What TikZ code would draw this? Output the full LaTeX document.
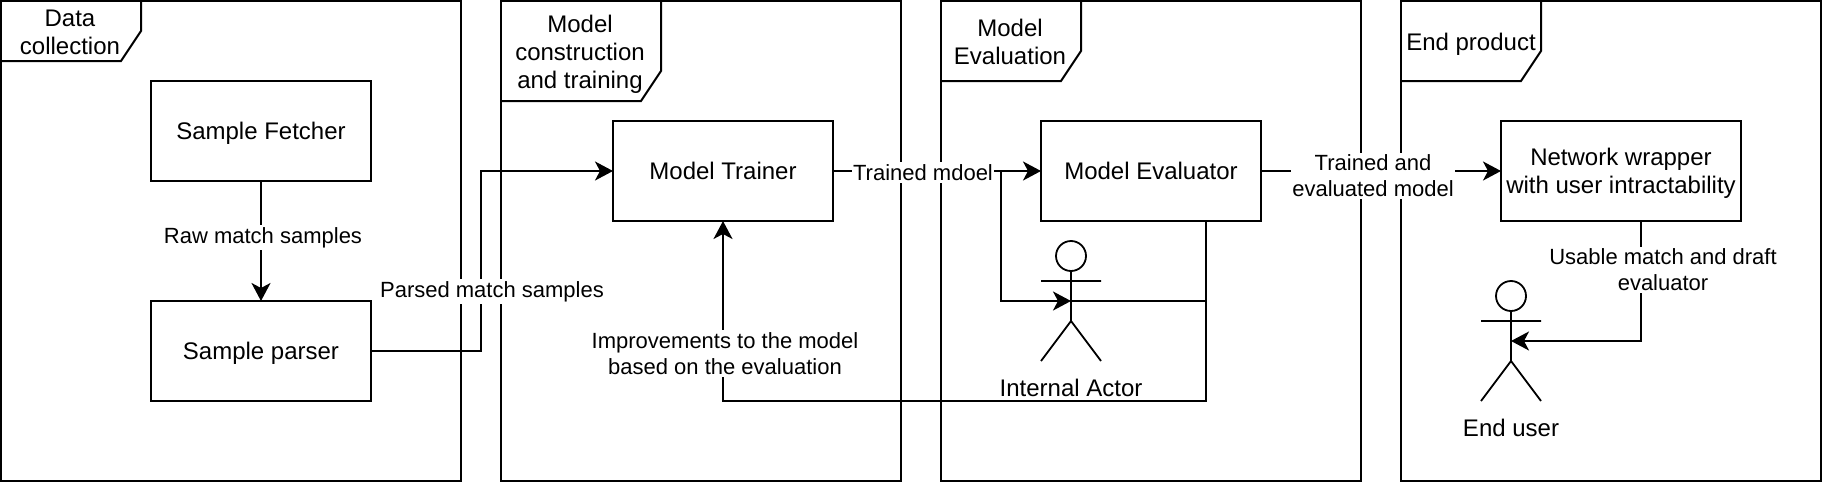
\documentclass[tikz,border=0pt]{standalone}
\usepackage{fontspec}
\setmainfont{Liberation Sans}
\usetikzlibrary{arrows.meta}
\tikzset{
  x=1pt,y=-1pt,
  every path/.style={line width=2pt,line join=miter},
  frame/.style={draw,anchor=north west,inner sep=0pt,outer sep=0pt,line width=2pt},
  tab/.style={draw,line width=2pt},
  tablabel/.style={font=\fontsize{24}{28}\selectfont,align=center,inner sep=0pt},
  procbox/.style={draw,anchor=north west,inner sep=0pt,outer sep=0pt,minimum height=100pt,line width=2pt,font=\fontsize{24}{28}\selectfont},
  lbl/.style={fill=white,inner xsep=1pt,inner ysep=2pt,font=\fontsize{22}{26}\selectfont,align=center},
  caption/.style={font=\fontsize{24}{28}\selectfont,inner sep=0pt},
  flow/.style={-{Stealth[length=18pt,width=19pt,inset=5pt]}},
  actor/.style={line width=1.8pt},
}
\newcommand{\lowtext}[1]{\raisebox{-9pt}[0pt][0pt]{\begin{tabular}{@{}c@{}}#1\end{tabular}}}
\begin{document}
\begin{tikzpicture}
\useasboundingbox (0,0) rectangle (1822,482);
% frames
\node[frame,minimum width=460pt,minimum height=480pt] (f1) at (1,1) {};
\node[frame,minimum width=400pt,minimum height=480pt] (f2) at (501,1) {};
\node[frame,minimum width=420pt,minimum height=480pt] (f3) at (941,1) {};
\node[frame,minimum width=420pt,minimum height=480pt] (f4) at (1401,1) {};
% tabs
\draw[tab] (141,1) -- (141,31) -- (121,61) -- (1,61);
\draw[tab] (661,1) -- (661,71) -- (641,101) -- (501,101);
\draw[tab] (1081,1) -- (1081,51) -- (1061,81) -- (941,81);
\draw[tab] (1541,1) -- (1541,51) -- (1521,81) -- (1401,81);
\node[tablabel] (t1) at (70,32) {Data\\collection};
\node[tablabel] (t2) at (580,54) {Model\\construction\\and training};
\node[tablabel] (t3) at (1010,42) {Model\\Evaluation};
\node[tablabel] (t4) at (1471,44) {End product};
% boxes
\node[procbox,minimum width=220pt] (fetch) at (151,81) {\lowtext{Sample Fetcher}};
\node[procbox,minimum width=220pt] (parse) at (151,301) {\lowtext{Sample parser}};
\node[procbox,minimum width=220pt] (train) at (613,121) {\lowtext{Model Trainer}};
\node[procbox,minimum width=220pt] (eval) at (1041,121) {\lowtext{Model Evaluator}};
\node[procbox,minimum width=240pt] (wrap) at (1501,121) {\lowtext{Network wrapper\\with user intractability}};
% actors
\draw[actor] (1071,256) circle[x radius=15,y radius=15];
\coordinate (ia) at (1071,301);
\coordinate (ib) at (1071,321);
\draw[actor] (1071,271) -- (ib) (1041,281) -- (1101,281) (1041,361) -- (ib) -- (1101,361);
\draw[actor] (1511,296) circle[x radius=15,y radius=15];
\coordinate (ua) at (1511,341);
\coordinate (ub) at (1511,361);
\draw[actor] (1511,311) -- (ub) (1481,321) -- (1541,321) (1481,401) -- (ub) -- (1541,401);
\node[caption] (ic) at (1071,388) {Internal Actor};
\node[caption] (uc) at (1511,428) {End user};
% connectors
\coordinate (evb) at (1206,221);
\coordinate (wb) at (1641,221);
\coordinate (trb) at (723,221);
\draw[flow] (fetch) -- (parse);
\draw[flow] (parse.east) -| (481,171) -- (train.west);
\draw[flow] (train.east) -- (eval.west);
\draw[flow] (1001,171) |- (ia);
\draw (evb) |- (ia);
\draw[flow] (evb) -- (1206,401) -| (trb);
\draw[flow] (eval.east) -- (wrap.west);
\draw[flow] (wb) |- (ua);
% labels
\node[lbl] (l1) at (263,237.5) {Raw match samples};
\node[lbl] (l2) at (492,291.5) {Parsed match samples};
\node[lbl] (l3) at (923,172.5) {Trained mdoel};
\node[lbl] (l4) at (725,353.5) {Improvements to the model\\based on the evaluation};
\node[lbl] (l5) at (1373,176) {Trained and\\evaluated model};
\node[lbl] (l6) at (1663,270) {Usable match and draft\\evaluator};
\end{tikzpicture}
\end{document}
